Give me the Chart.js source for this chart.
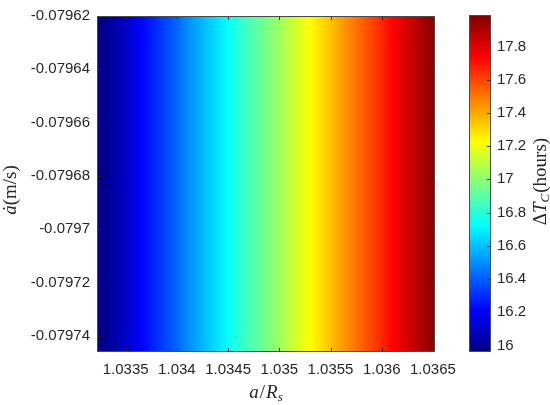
<!DOCTYPE html>
<html>
<head>
<meta charset="utf-8">
<script src="https://cdn.jsdelivr.net/npm/chart.js@4/dist/chart.umd.min.js"></script>
<style>
html, body { margin: 0; padding: 0; background: #fff; }
#wrap { position: relative; width: 550px; height: 405px; }
#main { position: absolute; left: 0; top: 0; }
#cbar { position: absolute; left: 469px; top: 0; }
</style>
</head>
<body>
<div id="wrap">
  <canvas id="main" width="550" height="405"></canvas>
  <canvas id="cbar" width="81" height="405"></canvas>
</div>
<script>
const aEdges = [1.0332, 1.0333, 1.0334, 1.0335, 1.0336, 1.0337, 1.0338, 1.0339, 1.0340, 1.0341,
                1.0342, 1.0343, 1.0344, 1.0345, 1.0346, 1.0347, 1.0348, 1.0349, 1.0350, 1.0351,
                1.0352, 1.0353, 1.0354, 1.0355, 1.0356, 1.0357, 1.0358, 1.0359, 1.0360, 1.0361,
                1.0362, 1.0363, 1.0364, 1.0365, 1.0366];
const dT = [15.93, 15.99, 16.05, 16.11, 16.18, 16.24, 16.30, 16.36, 16.42, 16.49,
            16.55, 16.61, 16.67, 16.73, 16.80, 16.86, 16.92, 16.98, 17.04, 17.11,
            17.17, 17.23, 17.29, 17.35, 17.42, 17.48, 17.54, 17.60, 17.66, 17.73,
            17.79, 17.85, 17.91, 17.97, 18.03];

// a-dot range covered by the field (m/s)
const adotRange = [-0.079746, -0.07962];
const xLimits = [1.03322, 1.03652];
const cLimits = [15.96, 17.99];

const xTicks = [1.0335, 1.034, 1.0345, 1.035, 1.0355, 1.036, 1.0365];
const xTickLabels = ['1.0335', '1.034', '1.0345', '1.035', '1.0355', '1.036', '1.0365'];
const yTicks = [-0.07974, -0.07972, -0.0797, -0.07968, -0.07966, -0.07964, -0.07962];
const yTickLabels = ['-0.07974', '-0.07972', '-0.0797', '-0.07968', '-0.07966', '-0.07964', '-0.07962'];
const cTicks = [16, 16.2, 16.4, 16.6, 16.8, 17, 17.2, 17.4, 17.6, 17.8];
const cTickLabels = ['16', '16.2', '16.4', '16.6', '16.8', '17', '17.2', '17.4', '17.6', '17.8'];

const INK = '#262626';
const tickFont = { family: "'Liberation Sans', Arial, sans-serif", size: 15 };
const SERIF = "'Liberation Serif', 'Times New Roman', serif";

function jet(t) {
  t = Math.min(1, Math.max(0, t));
  const f = v => Math.round(255 * Math.min(1, Math.max(0, v)));
  return `rgb(${f(1.5 - Math.abs(4 * t - 3))},${f(1.5 - Math.abs(4 * t - 2))},${f(1.5 - Math.abs(4 * t - 1))})`;
}
const norm = v => (v - cLimits[0]) / (cLimits[1] - cLimits[0]);

// one column per grid cell, spanning the whole a-dot range
const cells = [];
for (let i = 0; i < aEdges.length - 1; i++) {
  cells.push({ x: (aEdges[i] + aEdges[i + 1]) / 2, y: adotRange.slice() });
}

let fieldGrad = null, fieldKey = '';
function fieldFill(c) {
  const chart = c.chart;
  if (!chart.chartArea) return 'rgba(0,0,0,0)';
  const xs = chart.scales.x;
  const p0 = xs.getPixelForValue(aEdges[0]);
  const p1 = xs.getPixelForValue(aEdges[aEdges.length - 1]);
  const key = p0 + ',' + p1;
  if (fieldGrad && key === fieldKey) return fieldGrad;
  const g = chart.ctx.createLinearGradient(p0, 0, p1, 0);
  aEdges.forEach((a, i) => {
    g.addColorStop((xs.getPixelForValue(a) - p0) / (p1 - p0), jet(norm(dT[i])));
  });
  fieldGrad = g; fieldKey = key;
  return g;
}

let barGrad = null, barKey = '';
function barFill(c) {
  const chart = c.chart;
  if (!chart.chartArea) return 'rgba(0,0,0,0)';
  const ys = chart.scales.y;
  const p0 = ys.getPixelForValue(cLimits[0]), p1 = ys.getPixelForValue(cLimits[1]);
  const key = p0 + ',' + p1;
  if (barGrad && key === barKey) return barGrad;
  const g = chart.ctx.createLinearGradient(0, p0, 0, p1);
  [0, 1 / 8, 3 / 8, 5 / 8, 7 / 8, 1].forEach(t => g.addColorStop(t, jet(t)));
  barGrad = g; barKey = key;
  return g;
}

// axes box with MATLAB style inward ticks
const frame = {
  id: 'frame',
  afterDatasetsDraw(chart, args, opts) {
    const { ctx, chartArea: a } = chart;
    const L = 4;
    ctx.save();
    ctx.strokeStyle = INK;
    ctx.lineWidth = 1;
    ctx.beginPath();
    if (opts.xTicks) {
      chart.scales.x.ticks.forEach(t => {
        const px = Math.round(chart.scales.x.getPixelForValue(t.value)) + 0.5;
        ctx.moveTo(px, a.bottom); ctx.lineTo(px, a.bottom - L);
        ctx.moveTo(px, a.top); ctx.lineTo(px, a.top + L);
      });
    }
    chart.scales.y.ticks.forEach(t => {
      const py = Math.round(chart.scales.y.getPixelForValue(t.value)) + 0.5;
      ctx.moveTo(a.right, py); ctx.lineTo(a.right - L, py);
      if (opts.bothSides) { ctx.moveTo(a.left, py); ctx.lineTo(a.left + L, py); }
    });
    ctx.stroke();
    ctx.strokeStyle = opts.boxColor || '#4a4a4a';
    ctx.strokeRect(Math.round(a.left) + 0.5, Math.round(a.top) + 0.5,
                   Math.round(a.right - a.left) - 1, Math.round(a.bottom - a.top) - 1);
    ctx.restore();
  }
};

function drawRich(ctx, segs, cx, cy, rot) {
  ctx.save();
  ctx.translate(cx, cy);
  if (rot) ctx.rotate(rot);
  let w = 0;
  segs.forEach(s => { ctx.font = s.font; s.w = ctx.measureText(s.t).width; w += s.w + (s.gap || 0); });
  let x = -w / 2;
  ctx.fillStyle = INK;
  ctx.textBaseline = 'alphabetic';
  segs.forEach(s => { ctx.font = s.font; ctx.fillText(s.t, x, s.dy || 0); x += s.w + (s.gap || 0); });
  ctx.restore();
}

const it = sz => `italic ${sz}px ${SERIF}`;
const up = sz => `${sz}px ${SERIF}`;

const richTitles = {
  id: 'richTitles',
  afterDraw(chart, args, opts) {
    const { ctx, chartArea: a } = chart;
    opts.items.forEach(item => {
      const cx = item.x != null ? item.x : (a.left + a.right) / 2;
      const cy = item.y != null ? item.y : (a.top + a.bottom) / 2 + (item.dy || 0);
      drawRich(ctx, item.segs, cx, cy, item.rot);
    });
  }
};

Chart.defaults.font.family = tickFont.family;
Chart.defaults.color = INK;

new Chart(document.getElementById('main'), {
  type: 'bar',
  data: {
    datasets: [{
      data: cells,
      backgroundColor: fieldFill,
      borderWidth: 0,
      inflateAmount: 0,
      barPercentage: 1.5,
      categoryPercentage: 1
    }]
  },
  options: {
    responsive: false,
    animation: false,
    layout: { padding: { left: 0, top: 12, right: 115, bottom: 0 } },
    plugins: {
      legend: { display: false },
      tooltip: { enabled: false },
      frame: { xTicks: true, bothSides: true },
      richTitles: {
        items: [
          { y: 398, segs: [
            { t: 'a', font: it(19), gap: 1 },
            { t: '/', font: up(19), gap: 1 },
            { t: 'R', font: it(19) },
            { t: 's', font: it(13), dy: 3 }
          ] },
          { x: 16, dy: 6, rot: -Math.PI / 2, segs: [
            { t: '\u0227', font: it(19) },
            { t: '(m/s)', font: up(19) }
          ] }
        ]
      }
    },
    scales: {
      x: {
        type: 'linear',
        min: xLimits[0],
        max: xLimits[1],
        offset: false,
        grid: { display: false, drawTicks: false },
        border: { display: false },
        afterBuildTicks: s => { s.ticks = xTicks.map(v => ({ value: v })); },
        afterFit: s => { s.height = 53; },
        ticks: {
          font: tickFont, color: INK, padding: 9, maxRotation: 0, autoSkip: false,
          callback: (v, i) => xTickLabels[i]
        }
      },
      y: {
        type: 'linear',
        min: adotRange[0],
        max: adotRange[1],
        grid: { display: false, drawTicks: false },
        border: { display: false },
        afterBuildTicks: s => { s.ticks = yTicks.map(v => ({ value: v })); },
        afterFit: s => { s.width = 97; },
        ticks: {
          font: tickFont, color: INK, padding: 7, autoSkip: false,
          callback: (v, i) => yTickLabels[i]
        }
      }
    }
  },
  plugins: [frame, richTitles]
});

new Chart(document.getElementById('cbar'), {
  type: 'bar',
  data: {
    labels: ['cb'],
    datasets: [{
      data: [cLimits.slice()],
      backgroundColor: barFill,
      borderWidth: 0,
      inflateAmount: 0,
      barPercentage: 1,
      categoryPercentage: 1
    }]
  },
  options: {
    responsive: false,
    animation: false,
    layout: { padding: { left: 0, top: 12, right: 0, bottom: 53 } },
    plugins: {
      legend: { display: false },
      tooltip: { enabled: false },
      frame: { xTicks: false, bothSides: false },
      richTitles: {
        items: [
          { x: 77, dy: -2, rot: -Math.PI / 2, segs: [
            { t: '\u0394', font: up(19) },
            { t: 'T', font: it(19) },
            { t: 'C', font: it(13), dy: 3, gap: 1 },
            { t: '(hours)', font: up(19) }
          ] }
        ]
      }
    },
    scales: {
      x: { display: false, offset: true },
      y: {
        position: 'right',
        min: cLimits[0],
        max: cLimits[1],
        grid: { display: false, drawTicks: false },
        border: { display: false },
        afterBuildTicks: s => { s.ticks = cTicks.map(v => ({ value: v })); },
        afterFit: s => { s.width = 59; },
        ticks: {
          font: tickFont, color: INK, padding: 6, autoSkip: false,
          callback: (v, i) => cTickLabels[i]
        }
      }
    }
  },
  plugins: [frame, richTitles]
});
</script>
</body>
</html>
